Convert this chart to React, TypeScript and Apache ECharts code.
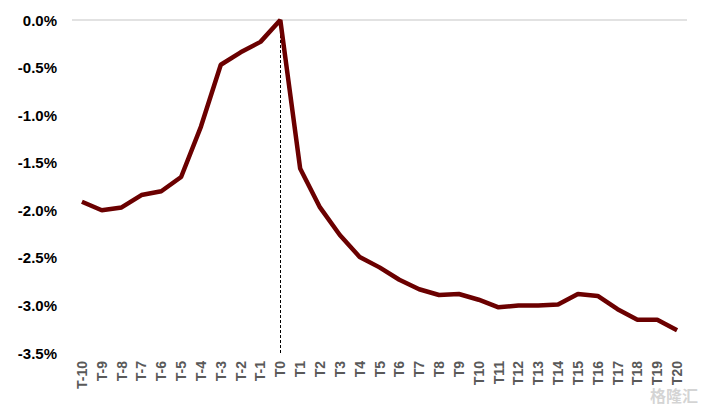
import React, { useEffect, useRef } from "react";
import * as echarts from "echarts";

const categories = [
  "T-10", "T-9", "T-8", "T-7", "T-6", "T-5", "T-4", "T-3", "T-2", "T-1", "T0",
  "T1", "T2", "T3", "T4", "T5", "T6", "T7", "T8", "T9", "T10",
  "T11", "T12", "T13", "T14", "T15", "T16", "T17", "T18", "T19", "T20",
];
const values = [
  -1.91, -2.0, -1.97, -1.84, -1.8, -1.65, -1.12, -0.47, -0.34, -0.23, 0.0,
  -1.56, -1.97, -2.26, -2.49, -2.6, -2.73, -2.83, -2.89, -2.88, -2.94,
  -3.02, -3.0, -3.0, -2.99, -2.88, -2.9, -3.04, -3.15, -3.15, -3.26,
];
const yMin = -3.5;
const yMax = 0;
const yStep = 0.5;
const markerCategory = "T0";
const watermark = "格隆汇";

export default function App() {
  const ref = useRef<HTMLDivElement>(null);
  useEffect(() => {
    document.body.style.margin = "0";
    if (!ref.current) return;
    const chart = echarts.init(ref.current, undefined, { renderer: "svg" });
    chart.setOption({
      animation: false,
      backgroundColor: "#ffffff",
      grid: { left: 72, right: 33, top: 20, bottom: 60, containLabel: false },
      xAxis: {
        type: "category",
        data: categories,
        boundaryGap: true,
        axisLine: { show: false },
        axisTick: { show: false },
        axisLabel: {
          rotate: 90,
          interval: 0,
          margin: 8,
          color: "#595959",
          fontWeight: "bold",
          fontSize: 14,
          fontFamily: "Liberation Sans, Arial, sans-serif",
        },
      },
      yAxis: {
        type: "value",
        min: yMin,
        max: yMax,
        interval: yStep,
        axisLine: { show: false },
        axisTick: { show: false },
        splitLine: { show: false },
        axisLabel: {
          margin: 15,
          color: "#000000",
          fontWeight: "bold",
          fontSize: 15,
          fontFamily: "Liberation Sans, Arial, sans-serif",
          formatter: (v: number) => v.toFixed(1) + "%",
        },
      },
      series: [
        {
          type: "line",
          data: values,
          symbol: "none",
          lineStyle: { color: "#6b0000", width: 4.5 },
          z: 5,
          markLine: {
            silent: true,
            symbol: "none",
            label: { show: false },
            data: [
              {
                yAxis: 0,
                lineStyle: { color: "#d9d9d9", type: "solid", width: 1.5 },
              },
              [
                { coord: [markerCategory, yMax] },
                { coord: [markerCategory, yMin] },
              ],
            ],
            lineStyle: { color: "#000000", type: [3, 2], width: 1 },
            z: 2,
          },
        },
      ],
      graphic: [
        {
          type: "text",
          right: 22,
          bottom: 10,
          style: {
            text: watermark,
            fill: "rgba(170,170,170,0.5)",
            fontSize: 16,
            fontWeight: "bold",
            fontFamily: "Noto Sans CJK SC, sans-serif",
          },
          z: 10,
        },
      ],
    });
    return () => chart.dispose();
  }, []);
  return <div ref={ref} style={{ width: 720, height: 413 }} />;
}
